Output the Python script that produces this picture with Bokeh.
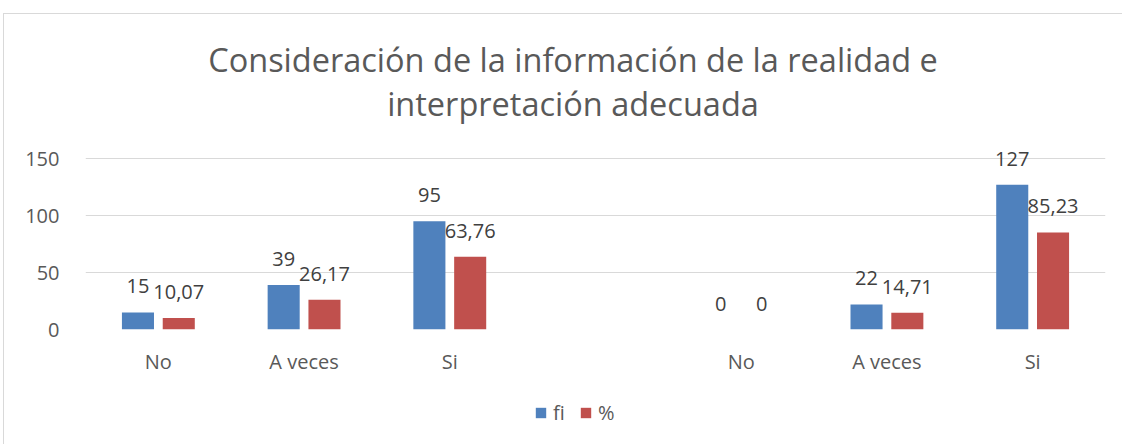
import numpy as np
from bokeh.plotting import figure
from bokeh.layouts import column
from bokeh.models import (ColumnDataSource, FixedTicker, Range1d, Legend, LegendItem, Label)
from bokeh.core.properties import value
from bokeh.transform import dodge
from bokeh.embed import file_html
from bokeh.resources import INLINE

title_lines = ["Consideración de la información de la realidad e", "interpretación adecuada"]
categories = ["No", "A veces", "Si", "", "No", "A veces", "Si"]
fi = [15, 39, 95, np.nan, 0, 22, 127]
pct = [10.07, 26.17, 63.76, np.nan, 0, 14.71, 85.23]
fi_labels = ["15", "39", "95", "", "0", "22", "127"]
pct_labels = ["10,07", "26,17", "63,76", "", "0", "14,71", "85,23"]
series_names = ["fi", "%"]
y_ticks = [0, 50, 100, 150]

FONT = "Open Sans"
BLUE = "#4F81BD"
RED = "#C0504D"
W = 1118
FRAME_W = 1020  # frames of the stacked figures are aligned by the column layout


def bare(height):
    f = figure(width=W, height=height, output_backend="svg", toolbar_location=None,
               x_range=Range1d(0, FRAME_W), y_range=Range1d(0, height),
               x_axis_type=None, y_axis_type=None,
               min_border_left=0, min_border_right=0, min_border_top=0, min_border_bottom=0)
    f.outline_line_color = None
    f.xgrid.visible = False
    f.ygrid.visible = False
    return f


# ---- title strip ----
tf = bare(116)
for txt, yy in zip(title_lines, [71, 27]):
    tf.add_layout(Label(x=487.5, y=yy, text=txt, text_align="center", text_baseline="middle",
                        text_font=FONT, text_font_size="32.5px", text_color="#595959"))

# ---- main chart ----
xpos = np.arange(len(categories)) + 0.5
src = ColumnDataSource(dict(x=xpos, fi=fi, pct=pct, fil=fi_labels, pctl=pct_labels))

p = figure(width=W, height=250, output_backend="svg", toolbar_location=None,
           x_range=Range1d(0, len(categories)), y_range=Range1d(0, 165),
           min_border_left=81, min_border_right=17, min_border_top=11, min_border_bottom=51)
p.outline_line_color = None

w = 0.22
off = 0.14
r1 = p.vbar(x=dodge("x", -off, range=p.x_range), top="fi", width=w, source=src,
            fill_color=BLUE, line_color=None)
r2 = p.vbar(x=dodge("x", off, range=p.x_range), top="pct", width=w, source=src,
            fill_color=RED, line_color=None)

p.text(x=dodge("x", -off, range=p.x_range), y="fi", text="fil", source=src,
       text_align="center", text_baseline="bottom", y_offset=-19,
       text_font=value(FONT), text_font_size="20px", text_color="#404040")
p.text(x=dodge("x", off, range=p.x_range), y="pct", text="pctl", source=src,
       text_align="center", text_baseline="bottom", y_offset=-19,
       text_font=value(FONT), text_font_size="20px", text_color="#404040")

p.xaxis.ticker = FixedTicker(ticks=list(xpos))
p.xaxis.major_label_overrides = {float(x): c for x, c in zip(xpos, categories)}
p.xaxis.axis_line_color = None
p.xaxis.major_tick_line_color = None
p.xaxis.minor_tick_line_color = None
p.xaxis.major_label_standoff = 12
p.xaxis.major_label_text_font = FONT
p.xaxis.major_label_text_font_size = "20px"
p.xaxis.major_label_text_color = "#595959"

p.yaxis.ticker = FixedTicker(ticks=y_ticks)
p.yaxis.axis_line_color = None
p.yaxis.major_tick_line_color = None
p.yaxis.minor_tick_line_color = None
p.yaxis.major_label_standoff = 20
p.yaxis.major_label_text_font = FONT
p.yaxis.major_label_text_font_size = "20px"
p.yaxis.major_label_text_color = "#595959"

p.xgrid.grid_line_color = None
p.ygrid.ticker = FixedTicker(ticks=y_ticks)
p.ygrid.grid_line_color = "#d9d9d9"
p.ygrid.grid_line_width = 1

# ---- legend strip (hidden copies of the series provide the swatches) ----
lf = bare(64)
lr1 = lf.vbar(x="x", top="fi", width=w, source=src, fill_color=BLUE, line_color=None, visible=False)
lr2 = lf.vbar(x="x", top="pct", width=w, source=src, fill_color=RED, line_color=None, visible=False)
legend = Legend(items=[LegendItem(label=series_names[0], renderers=[lr1]),
                       LegendItem(label=series_names[1], renderers=[lr2])],
                orientation="horizontal", location=(449, 18),
                label_text_font=FONT, label_text_font_size="20px", label_text_color="#595959",
                glyph_width=13, glyph_height=13, label_standoff=6, spacing=6,
                inactive_fill_alpha=0,
                border_line_color=None, background_fill_alpha=0, padding=0, margin=0)
lf.add_layout(legend, "center")

layout = column(tf, p, lf, spacing=0,
                styles={"border-top": "1px solid #d9d9d9", "border-left": "1px solid #d9d9d9",
                        "margin-left": "3px", "margin-top": "13px"})

open("out.html", "w").write(file_html(layout, INLINE))
